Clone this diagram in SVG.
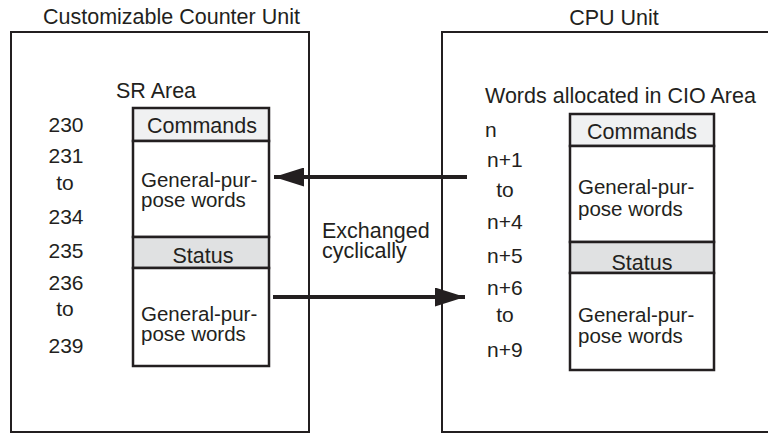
<svg xmlns="http://www.w3.org/2000/svg" width="768" height="434" viewBox="0 0 768 434">
<defs>
<style>
text{font-family:"Liberation Sans",Arial,sans-serif;font-size:21.5px;fill:#231f20}
.g{font-size:20.5px}
.n{font-size:21px}
.c{text-anchor:middle}
.outer{fill:none;stroke:#231f20;stroke-width:2}
.inner{fill:#fff;stroke:#231f20;stroke-width:2.5}
.cmd{fill:#f0f1f2;stroke:#231f20;stroke-width:2.5}
.st{fill:#e0e1e2;stroke:#231f20;stroke-width:2.5}
.arr{stroke:#231f20;stroke-width:4;fill:none}
</style>
<marker id="ah" viewBox="0 0 30 19" refX="30" refY="9.5" markerWidth="30" markerHeight="19" markerUnits="userSpaceOnUse" orient="auto">
<path d="M0,0 L30,9.5 L0,19 Z" fill="#231f20"/>
</marker>
</defs>
<rect width="768" height="434" fill="#fff"/>
<g id="counter-unit">
<text x="43" y="24">Customizable Counter Unit</text>
<rect class="outer" x="11" y="32" width="298" height="400"/>
<text x="116" y="98">SR Area</text>
<text class="c n" x="66" y="132">230</text>
<text class="c n" x="66" y="163">231</text>
<text class="c n" x="65" y="190">to</text>
<text class="c n" x="66" y="224">234</text>
<text class="c n" x="66" y="258">235</text>
<text class="c n" x="66" y="290">236</text>
<text class="c n" x="65" y="316">to</text>
<text class="c n" x="66" y="353">239</text>
</g>
<g id="sr-area">
<rect class="cmd" x="133" y="108" width="136" height="33"/>
<text class="c" x="202" y="133">Commands</text>
<rect class="inner" x="133" y="141" width="136" height="96"/>
<text class="g" x="141" y="187">General-pur-</text>
<text class="g" x="141" y="207">pose words</text>
<rect class="st" x="133" y="237" width="136" height="31"/>
<text class="c" x="203" y="263">Status</text>
<rect class="inner" x="133" y="268" width="136" height="98"/>
<text class="g" x="141" y="321">General-pur-</text>
<text class="g" x="141" y="341">pose words</text>
</g>
<g id="cpu-unit">
<text class="c" x="614" y="25">CPU Unit</text>
<rect class="outer" x="442" y="32" width="340" height="400"/>
<text x="485" y="103">Words allocated in CIO Area</text>
<text class="n" x="485" y="137">n</text>
<text class="n" x="487" y="167">n+1</text>
<text class="c n" x="505" y="197">to</text>
<text class="n" x="487" y="229">n+4</text>
<text class="n" x="487" y="263">n+5</text>
<text class="n" x="487" y="295">n+6</text>
<text class="c n" x="505" y="322">to</text>
<text class="n" x="487" y="357">n+9</text>
</g>
<g id="cio-area">
<rect class="cmd" x="570" y="114" width="144" height="32"/>
<text class="c" x="642" y="139">Commands</text>
<rect class="inner" x="570" y="146" width="144" height="96"/>
<text class="g" x="578" y="194">General-pur-</text>
<text class="g" x="578" y="216">pose words</text>
<rect class="st" x="570" y="242" width="144" height="31"/>
<text class="c" x="642" y="270">Status</text>
<rect class="inner" x="570" y="273" width="144" height="97"/>
<text class="g" x="578" y="322">General-pur-</text>
<text class="g" x="578" y="343">pose words</text>
</g>
<g id="connectors">
<line class="arr" x1="467" y1="177" x2="274" y2="177" marker-end="url(#ah)"/>
<line class="arr" x1="273" y1="297" x2="465" y2="297" marker-end="url(#ah)"/>
</g>
<g id="exchange-label">
<text x="322" y="238">Exchanged</text>
<text x="322" y="258">cyclically</text>
</g>
</svg>
